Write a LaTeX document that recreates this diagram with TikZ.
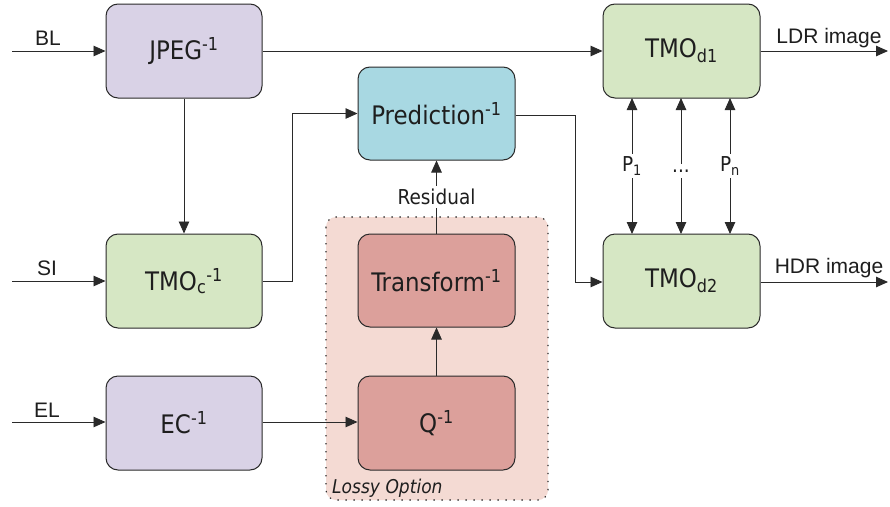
\documentclass[tikz,border=0pt]{standalone}
\usepackage{fontspec}
\setmainfont{DejaVu Sans Condensed}
\newfontfamily\arialf{Liberation Sans}
\usetikzlibrary{arrows.meta,positioning}
\definecolor{cpurple}{HTML}{D9D2E6}
\definecolor{cgreen}{HTML}{D6E7C4}
\definecolor{cblue}{HTML}{A8D8E2}
\definecolor{cred}{HTML}{DCA09B}
\definecolor{clossy}{HTML}{F4DAD3}
\definecolor{cstroke}{HTML}{2A2A2A}
\definecolor{ctext}{HTML}{1E1E1E}
\begin{document}
\begin{tikzpicture}[x=1pt,y=-1pt,
  blockbox/.style={draw=cstroke,line width=1pt,rounded corners=12pt,minimum width=156pt,minimum height=94pt,inner sep=0pt,font=\fontsize{25.5}{28}\selectfont,text=ctext},
  conn/.style={draw=cstroke,line width=0.9pt,-{Triangle[length=12pt,width=10.5pt]}},
  dconn/.style={draw=cstroke,line width=0.9pt,{Triangle[length=12pt,width=10.5pt]}-{Triangle[length=12pt,width=10.5pt]}},
  iolabel/.style={font=\arialf\fontsize{21}{23}\selectfont,text=ctext,inner sep=0pt},
  smalllabel/.style={font=\fontsize{20.5}{23}\selectfont,text=ctext,fill=white,inner sep=3pt}]
\useasboundingbox (0,0) rectangle (890,506);
\fill[white] (0,0) rectangle (890,506);
% lossy region
\draw[fill=clossy,draw=cstroke,dash pattern=on 1.4pt off 6.6pt,line width=1.1pt,rounded corners=10pt] (326,217) rectangle (548,500);
\node[anchor=west,font=\itshape\fontsize{19}{21}\selectfont,text=ctext,inner sep=0pt] (lossy) at (332,488) {Lossy Option};
% boxes
\node[blockbox,fill=cpurple] (jpeg) at (184,51) {JPEG\textsuperscript{-1}};
\node[blockbox,fill=cgreen] (tmoc) at (184,281) {TMO\textsubscript{c}\textsuperscript{-1}};
\node[blockbox,fill=cpurple] (ec) at (184,423) {EC\textsuperscript{-1}};
\node[blockbox,fill=cblue,minimum height=93pt,minimum width=157pt] (pred) at (436.5,113.5) {Prediction\textsuperscript{-1}};
\node[blockbox,fill=cred,minimum height=93pt,minimum width=157pt] (trans) at (436.5,280.5) {Transform\textsuperscript{-1}};
\node[blockbox,fill=cred,minimum width=157pt] (q) at (436.5,423) {Q\textsuperscript{-1}};
\node[blockbox,fill=cgreen,minimum width=157pt] (tmod1) at (681.5,51) {TMO\textsubscript{d1}};
\node[blockbox,fill=cgreen,minimum width=157pt] (tmod2) at (681.5,281) {TMO\textsubscript{d2}};
% inputs
\coordinate (blin) at (12,51);
\coordinate (siin) at (12,281);
\coordinate (elin) at (12,422);
\draw[conn] (blin) -- (jpeg.west |- blin);
\draw[conn] (siin) -- (tmoc.west |- siin);
\draw[conn] (elin) -- (ec.west |- elin);
\node[iolabel] (bl) at (48,38) {BL};
\node[iolabel] (si) at (47,268) {SI};
\node[iolabel] (el) at (47,410) {EL};
% outputs
\coordinate (ldrout) at (888,51);
\coordinate (hdrout) at (888,282);
\draw[conn] (tmod1.east |- ldrout) -- (ldrout);
\draw[conn] (tmod2.east |- hdrout) -- (hdrout);
\node[iolabel] (ldr) at (829,38) {LDR image};
\node[iolabel] (hdr) at (829,268) {HDR image};
% internal connectors
\draw[conn] (jpeg.east) -- (tmod1.west);
\draw[conn] (jpeg.south) -- (tmoc.north);
\coordinate (k1) at (292,281);
\draw[conn] (tmoc.east) -- (k1) |- (pred.west);
\coordinate (k2) at (575,115);
\draw[conn] (pred.east |- k2) -- (k2) |- (tmod2.west |- hdrout);
\draw[conn] (ec.east |- elin) -- (q.west |- elin);
\draw[conn] (q.north) -- (trans.south);
\draw[conn] (trans.north) -- (pred.south);
\node[smalllabel] (res) at (436.5,197) {Residual};
% parameter arrows
\foreach \xx in {632,681,730}{
  \draw[dconn] (\xx,98) -- (\xx,234);
}
\node[smalllabel] (p1) at (632,166) {P\textsubscript{1}};
\node[smalllabel,inner ysep=6pt] (pd) at (681,171) {...};
\node[smalllabel] (pn) at (730,166) {P\textsubscript{n}};
\end{tikzpicture}
\end{document}
